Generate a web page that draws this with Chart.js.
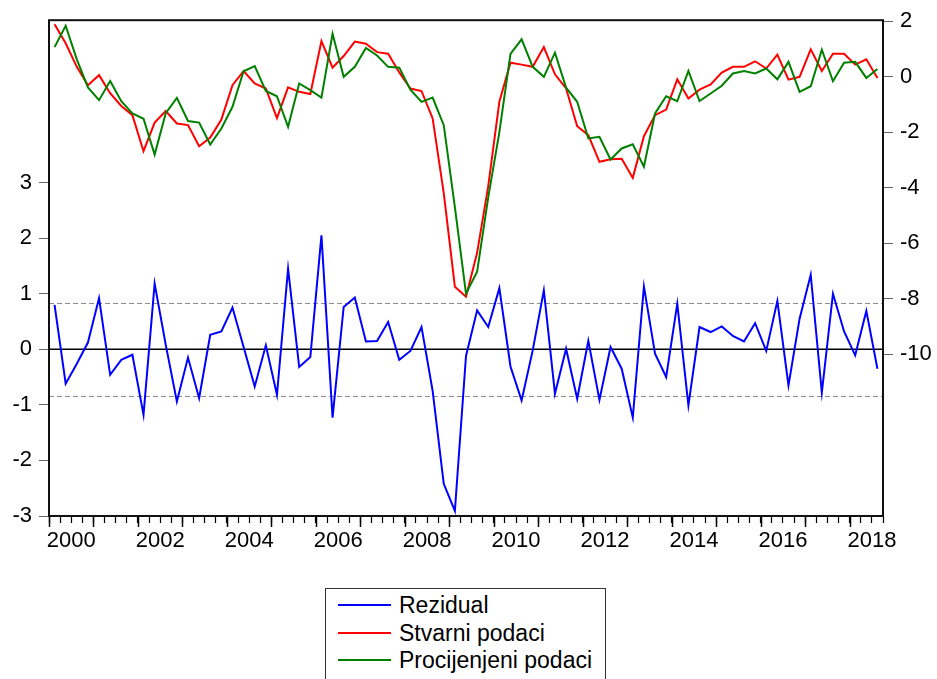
<!DOCTYPE html>
<html>
<head>
<meta charset="utf-8">
<script src="https://cdn.jsdelivr.net/npm/chart.js@4.4.1/dist/chart.umd.min.js"></script>
<style>
  html, body { margin:0; padding:0; background:#fff; }
  #wrap { position:relative; width:937px; height:679px; overflow:hidden; }
  #chart { position:absolute; left:0; top:0; }
  .legend { position:absolute; left:325px; top:588px; width:279px; height:100px;
            border:1px solid #333; background:#fff;
            font:23px "Liberation Sans", Arial, sans-serif; color:#000; }
  .legend .row { position:absolute; left:0; width:100%; height:26px; line-height:26px; white-space:nowrap; }
  .legend .swatch { position:absolute; left:12px; top:12px; width:53px; height:2px; }
  .legend .txt { position:absolute; left:73px; top:0; }
</style>
</head>
<body>
<div id="wrap">
  <canvas id="chart" width="937" height="679"></canvas>
  <div class="legend" id="legend"></div>
</div>
<script>
"use strict";

// quarterly sample 2000Q1 - 2018Q3
const quarters = [];
for (let y = 2000; y <= 2018; y++) for (let q = 1; q <= 4; q++) quarters.push(y + 'Q' + q);
quarters.length = 75;

const yearLabels = ['2000','2002','2004','2006','2008','2010','2012','2014','2016','2018'];

const rezidual = [
   0.80, -0.62, -0.26,  0.12,  0.92, -0.46, -0.19, -0.10, -1.18,  1.18,
   0.08, -0.94, -0.15, -0.88,  0.26,  0.32,  0.75,  0.04, -0.67,  0.07,
  -0.82,  1.45, -0.32, -0.14,  2.05, -1.23,  0.76,  0.93,  0.14,  0.15,
   0.49, -0.19, -0.03,  0.40, -0.75, -2.42, -2.91, -0.12,  0.70,  0.40,
   1.10, -0.31, -0.92, -0.02,  1.06, -0.80,  0.01, -0.89,  0.15, -0.91,
   0.04, -0.35, -1.23,  1.13, -0.08, -0.50,  0.82, -1.01,  0.40,  0.31,
   0.41,  0.24,  0.14,  0.47, -0.03,  0.87, -0.65,  0.55,  1.34, -0.78,
   1.00,  0.32, -0.11,  0.69, -0.35
];

const stvarni = [
   1.88,  1.20,  0.35, -0.31,  0.05, -0.60, -1.06, -1.39, -2.69, -1.66,
  -1.24, -1.69, -1.75, -2.51, -2.20, -1.55, -0.31,  0.20, -0.25, -0.43,
  -1.50, -0.39, -0.55, -0.63,  1.28,  0.32,  0.74,  1.26,  1.18,  0.88,
   0.82,  0.15, -0.43, -0.52, -1.51, -4.20, -7.57, -7.93, -6.35, -3.95,
  -0.91,  0.50,  0.43,  0.35,  1.06,  0.08, -0.43, -1.79, -2.11, -3.07,
  -2.98, -2.96, -3.65, -2.15, -1.39, -1.19, -0.10, -0.79, -0.47, -0.28,
   0.14,  0.35,  0.35,  0.55,  0.29,  0.79, -0.11, -0.01,  0.98,  0.20,
   0.82,  0.82,  0.43,  0.62, -0.05
];

const procijenjeni = [
   1.06,  1.83,  0.62, -0.39, -0.85, -0.16, -0.89, -1.33, -1.52, -2.81,
  -1.32, -0.77, -1.60, -1.66, -2.45, -1.87, -1.09,  0.19,  0.38, -0.52,
  -0.71, -1.81, -0.25, -0.49, -0.76,  1.54, -0.01,  0.35,  1.03,  0.76,
   0.35,  0.32, -0.47, -0.91, -0.76, -1.75, -4.70, -7.82, -7.03, -4.35,
  -2.00,  0.82,  1.34,  0.35, -0.01,  0.86, -0.40, -0.91, -2.23, -2.17,
  -2.99, -2.59, -2.44, -3.25, -1.33, -0.71, -0.89,  0.20, -0.88, -0.61,
  -0.33,  0.11,  0.20,  0.11,  0.29, -0.10,  0.53, -0.55, -0.35,  0.97,
  -0.17,  0.50,  0.53, -0.05,  0.27
];

// standard error of the regression, drawn as dashed band around zero
const residualSE = 0.84;

const series = [
  { label:'Rezidual',           data:rezidual,     color:'#0000ff', axis:'yL', order:2 },
  { label:'Stvarni podaci',     data:stvarni,      color:'#ff0000', axis:'yR', order:1 },
  { label:'Procijenjeni podaci', data:procijenjeni, color:'#008000', axis:'yR', order:0 }
];

const FONT = '"Liberation Sans", Arial, sans-serif';
Chart.defaults.font.family = FONT;
Chart.defaults.color = '#000';

const frame = {
  id:'frame',
  beforeDatasetsDraw(chart) {
    const { ctx, chartArea:a, scales } = chart;
    const yL = scales.yL;
    ctx.save();
    ctx.strokeStyle = '#8c8c8c'; ctx.lineWidth = 1; ctx.setLineDash([5, 3]);
    [residualSE, -residualSE].forEach(v => {
      const y = Math.round(yL.getPixelForValue(v)) + 0.5;
      ctx.beginPath(); ctx.moveTo(a.left, y); ctx.lineTo(a.right, y); ctx.stroke();
    });
    ctx.setLineDash([]);
    ctx.strokeStyle = '#000'; ctx.lineWidth = 1.3;
    const y0 = yL.getPixelForValue(0);
    ctx.beginPath(); ctx.moveTo(a.left, y0); ctx.lineTo(a.right, y0); ctx.stroke();
    ctx.restore();
  },
  afterDraw(chart) {
    const { ctx, chartArea:a, scales } = chart;
    const x = scales.x;
    const half = (x.getPixelForValue(1) - x.getPixelForValue(0)) / 2;
    ctx.save();
    ctx.strokeStyle = '#000'; ctx.lineWidth = 1.5;
    quarters.forEach((q, i) => {
      if (!q.endsWith('Q1')) return;
      const px = Math.round(x.getPixelForValue(i) - half) + 0.5;
      ctx.beginPath(); ctx.moveTo(px, a.bottom); ctx.lineTo(px, a.bottom + 11); ctx.stroke();
    });
    ctx.strokeStyle = '#111'; ctx.lineWidth = 2;
    ctx.strokeRect(a.left, a.top, a.right - a.left, a.bottom - a.top);
    ctx.restore();
  }
};

const tickFont = { family:FONT, size:22 };

new Chart(document.getElementById('chart'), {
  type:'line',
  data:{
    labels:quarters,
    datasets:series.map(s => ({
      label:s.label, data:s.data, yAxisID:s.axis, order:s.order,
      borderColor:s.color, borderWidth:2, pointRadius:0, tension:0, fill:false
    }))
  },
  options:{
    responsive:false,
    animation:false,
    devicePixelRatio:1,
    layout:{ padding:{ top:20, left:0, right:0, bottom:0 } },
    plugins:{ legend:{ display:false }, tooltip:{ enabled:false } },
    scales:{
      x:{
        type:'category', offset:true,
        grid:{ display:true, drawOnChartArea:false, offset:true, tickLength:7, tickColor:'#000', tickWidth:1.2 },
        border:{ display:false },
        ticks:{
          autoSkip:false, maxRotation:0, minRotation:0, padding:5, font:tickFont, color:'#000',
          labelOffset:5.6,
          callback:(v, i) => {
            const q = quarters[i];
            const yr = q.slice(0, 4);
            return q.endsWith('Q2') && yearLabels.includes(yr) ? yr : '';
          }
        },
        afterFit:s => { s.height = 163; }
      },
      yL:{
        type:'linear', position:'left', min:-3, max:5.92,
        grid:{ drawOnChartArea:false, tickLength:10,
               tickColor:c => (c.tick && c.tick.value <= 3) ? '#666' : 'rgba(0,0,0,0)' },
        border:{ display:false },
        ticks:{ stepSize:1, includeBounds:false, padding:7, font:tickFont, color:'#000',
                callback:v => v <= 3 ? String(v) : '' },
        afterFit:s => { s.width = 49; }
      },
      yR:{
        type:'linear', position:'right', min:-15.83, max:2.03,
        grid:{ drawOnChartArea:false, tickLength:10,
               tickColor:c => (c.tick && c.tick.value >= -10) ? '#666' : 'rgba(0,0,0,0)' },
        border:{ display:false },
        ticks:{ stepSize:2, includeBounds:false, padding:7, font:tickFont, color:'#000',
                callback:v => v >= -10 ? String(v) : '' },
        afterFit:s => { s.width = 54; }
      }
    }
  },
  plugins:[frame]
});

// legend box under the plot
const lg = document.getElementById('legend');
series.forEach((s, i) => {
  const row = document.createElement('div');
  row.className = 'row';
  row.style.top = (3 + i * 27.5) + 'px';
  row.innerHTML = `<span class="swatch" style="background:${s.color}"></span><span class="txt">${s.label}</span>`;
  lg.appendChild(row);
});
</script>
</body>
</html>
